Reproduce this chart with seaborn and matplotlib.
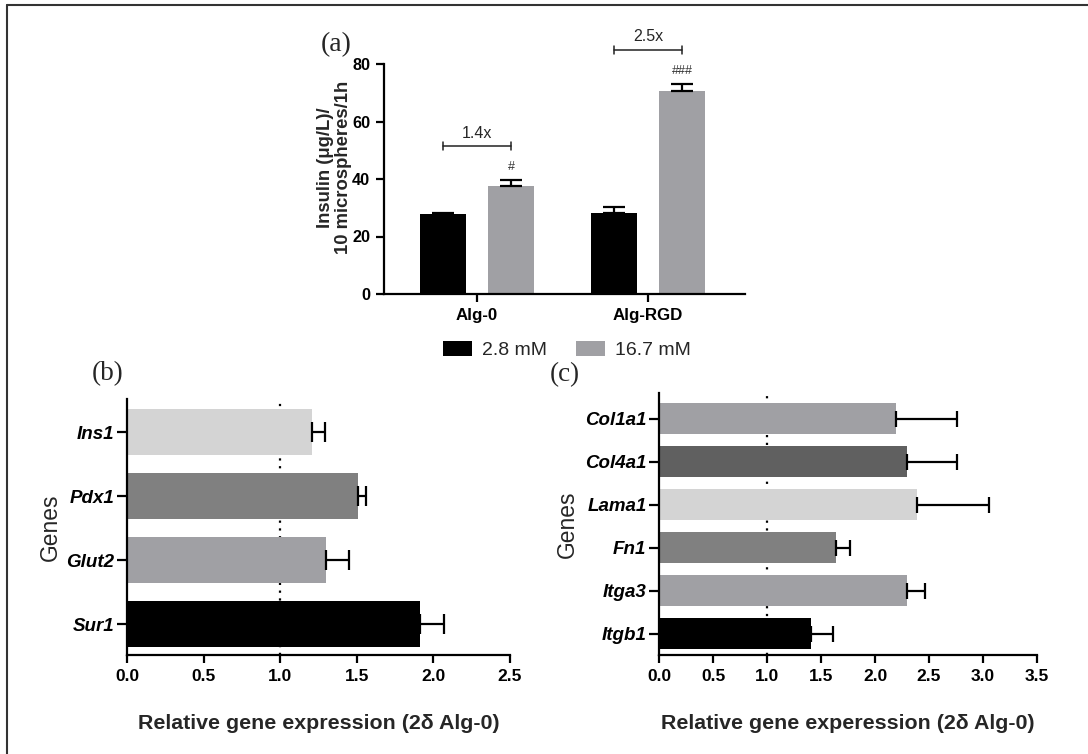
import numpy as np
import pandas as pd
import matplotlib
matplotlib.use("Agg")
import matplotlib.pyplot as plt
from matplotlib.lines import Line2D
import seaborn as sns

# ---------------- data ----------------
groups_a = ["Alg-0", "Alg-RGD"]
conc_levels = ["2.8 mM", "16.7 mM"]
insulin_low = [27.8, 28.3]
insulin_high = [37.5, 70.5]
insulin_low_err = [0.5, 2.0]
insulin_high_err = [2.0, 2.5]
fold_labels = ["1.4x", "2.5x"]
sig_labels = ["#", "###"]
conc_colors = ["#000000", "#a0a0a4"]

genes_b = ["Ins1", "Pdx1", "Glut2", "Sur1"]
expr_b = [1.21, 1.51, 1.30, 1.91]
err_b = [0.08, 0.05, 0.15, 0.16]
colors_b = ["#d4d4d4", "#808080", "#a0a0a4", "#000000"]

genes_c = ["Col1a1", "Col4a1", "Lama1", "Fn1", "Itga3", "Itgb1"]
expr_c = [2.19, 2.30, 2.39, 1.64, 2.30, 1.41]
err_c = [0.57, 0.46, 0.67, 0.13, 0.16, 0.20]
colors_c = ["#a0a0a4", "#606060", "#d4d4d4", "#808080", "#a0a0a4", "#000000"]

ticks_b = [0.0, 0.5, 1.0, 1.5, 2.0, 2.5]
ticks_c = [0.0, 0.5, 1.0, 1.5, 2.0, 2.5, 3.0, 3.5]
ticks_a = [0, 20, 40, 60, 80]

# ---------------- style ----------------
sns.set_style("ticks")
plt.rcParams["font.family"] = ["Liberation Sans", "DejaVu Sans"]
plt.rcParams["axes.linewidth"] = 1.5

W, H = 1088, 754
fig = plt.figure(figsize=(W / 100, H / 100), dpi=100)

def frac(left, top, right, bottom):
    return [left / W, 1 - bottom / H, (right - left) / W, (bottom - top) / H]

def style_axes(ax, labelsize):
    sns.despine(ax=ax)
    for s in ("left", "bottom"):
        ax.spines[s].set_linewidth(1.6)
        ax.spines[s].set_color("black")
    ax.tick_params(axis="both", which="major", length=6, width=1.6, color="black",
                   labelsize=labelsize, labelcolor="black", pad=4)
    for lab in ax.get_xticklabels() + ax.get_yticklabels():
        lab.set_fontweight("bold")

# ---------------- panel (a) ----------------
axa = fig.add_axes(frac(384, 64, 745, 294))
df_a = pd.DataFrame({
    "group": groups_a * 2,
    "conc": [conc_levels[0]] * 2 + [conc_levels[1]] * 2,
    "value": insulin_low + insulin_high,
})
sns.barplot(data=df_a, x="group", y="value", hue="conc", order=groups_a,
            hue_order=conc_levels, palette=conc_colors, errorbar=None,
            width=0.8, gap=0.33, saturation=1, ax=axa, legend=False)
errs_a = [insulin_low_err, insulin_high_err]
centers = {}
tops = {}
bar_containers = list(axa.containers)
for h, cont in enumerate(bar_containers):
    for g, bar in enumerate(list(cont)):
        bar.set_edgecolor("none")
        xc = bar.get_x() + bar.get_width() / 2
        yv = bar.get_height()
        centers[(h, g)] = xc
        tops[(h, g)] = yv + errs_a[h][g]
for (h, g), xc in centers.items():
    axa.errorbar(xc, tops[(h, g)] - errs_a[h][g], yerr=[[0], [errs_a[h][g]]], fmt="none",
                 ecolor="black", elinewidth=1.6, capsize=8, capthick=1.6, zorder=3)

for g in range(len(groups_a)):
    top = tops[(1, g)]
    x0, x1 = centers[(0, g)], centers[(1, g)]
    axa.text(x1, top + 4.5, sig_labels[g], ha="center", va="center", fontsize=9,
             color="#333333", clip_on=False)
    yb = top + 12
    axa.plot([x0, x1], [yb, yb], color="#222222", lw=1.1, clip_on=False)
    for xx in (x0, x1):
        axa.plot([xx, xx], [yb - 1.4, yb + 1.4], color="#222222", lw=1.1, clip_on=False)
    axa.text((x0 + x1) / 2, yb + 4.5, fold_labels[g], ha="center", va="center",
             fontsize=11.5, clip_on=False)

axa.set_ylim(0, 80)
axa.set_xlim(-0.544, 1.567)
axa.set_yticks(ticks_a)
axa.set_xlabel("")
axa.set_ylabel("Insulin (μg/L)/\n10 microspheres/1h", fontsize=13.3, fontweight="bold",
               linespacing=1.1)
axa.yaxis.set_label_coords(-0.089, 0.55)
style_axes(axa, 11.7)
axa.tick_params(axis="x", labelsize=12.2)

handles = [plt.Rectangle((0, 0), 1, 1, facecolor=c, edgecolor="none") for c in conc_colors]
fig.legend(handles, conc_levels, loc="center", bbox_to_anchor=(567 / W, 1 - 350 / H),
           ncol=2, frameon=False, fontsize=14, handlelength=1.5, handleheight=0.8,
           handletextpad=0.5, columnspacing=1.5)
fig.text(336 / W, 1 - 45 / H, "(a)", fontsize=20, family="Liberation Serif",
         ha="center", va="center")

# ---------------- panels (b) and (c) ----------------
def hbar_panel(rect, genes, vals, errs, cols, ticks, xmax, ylim, capsize, xlabel,
               label_x, letter, letter_xy):
    ax = fig.add_axes(rect)
    df = pd.DataFrame({"gene": genes, "value": vals})
    ax.axvline(1.0, color="black", lw=1.6, linestyle=(0, (1, 2.5)), zorder=0)
    sns.barplot(data=df, x="value", y="gene", hue="gene", palette=cols, order=genes,
                hue_order=genes, orient="h", width=0.72, errorbar=None, saturation=1,
                legend=False, ax=ax)
    bars = [b for b in ax.patches]
    for bar in bars:
        bar.set_edgecolor("none")
        bar.set_zorder(2)
    for i, g in enumerate(genes):
        for bar in bars:
            yc = bar.get_y() + bar.get_height() / 2
            if abs(yc - i) < 1e-6 and bar.get_width() > 0:
                ax.errorbar(bar.get_width(), yc, xerr=[[0], [errs[i]]], fmt="none",
                            ecolor="black", elinewidth=1.6, capsize=capsize,
                            capthick=1.6, zorder=3)
    ax.set_xlim(0, xmax)
    ax.set_xticks(ticks)
    ax.set_xticklabels([f"{t:.1f}" for t in ticks])
    ax.set_ylim(*ylim)
    ax.set_xlabel(xlabel, fontsize=15.4, fontweight="bold", labelpad=22)
    ax.set_ylabel("Genes", fontsize=16.4)
    ax.yaxis.set_label_coords(label_x, 0.5)
    style_axes(ax, 12.5)
    ax.tick_params(axis="y", length=7, pad=2)
    for lab in ax.get_yticklabels():
        lab.set_fontstyle("italic")
        lab.set_fontsize(13.5)
    fig.text(letter_xy[0] / W, 1 - letter_xy[1] / H, letter, fontsize=19.5,
             family="Liberation Serif", ha="center", va="center")
    return ax

hbar_panel(frac(127, 399, 510, 655), genes_b, expr_b, err_b, colors_b, ticks_b, 2.5,
           (3.48, -0.52), 7, "Relative gene expression (2δ Alg-0)", -0.17, "(b)", (108, 374))
hbar_panel(frac(659, 393, 1037, 655), genes_c, expr_c, err_c, colors_c, ticks_c, 3.5,
           (5.49, -0.6), 5.5, "Relative gene experession (2δ Alg-0)", -0.212, "(c)", (565, 375))

# ---------------- frame ----------------
fig.add_artist(Line2D([7 / W, 1.0], [1 - 5 / H, 1 - 5 / H], color="#333333", lw=1.5))
fig.add_artist(Line2D([7 / W, 7 / W], [0.0, 1 - 5 / H], color="#333333", lw=1.5))

fig.savefig("out.png", dpi=100, facecolor="white")
